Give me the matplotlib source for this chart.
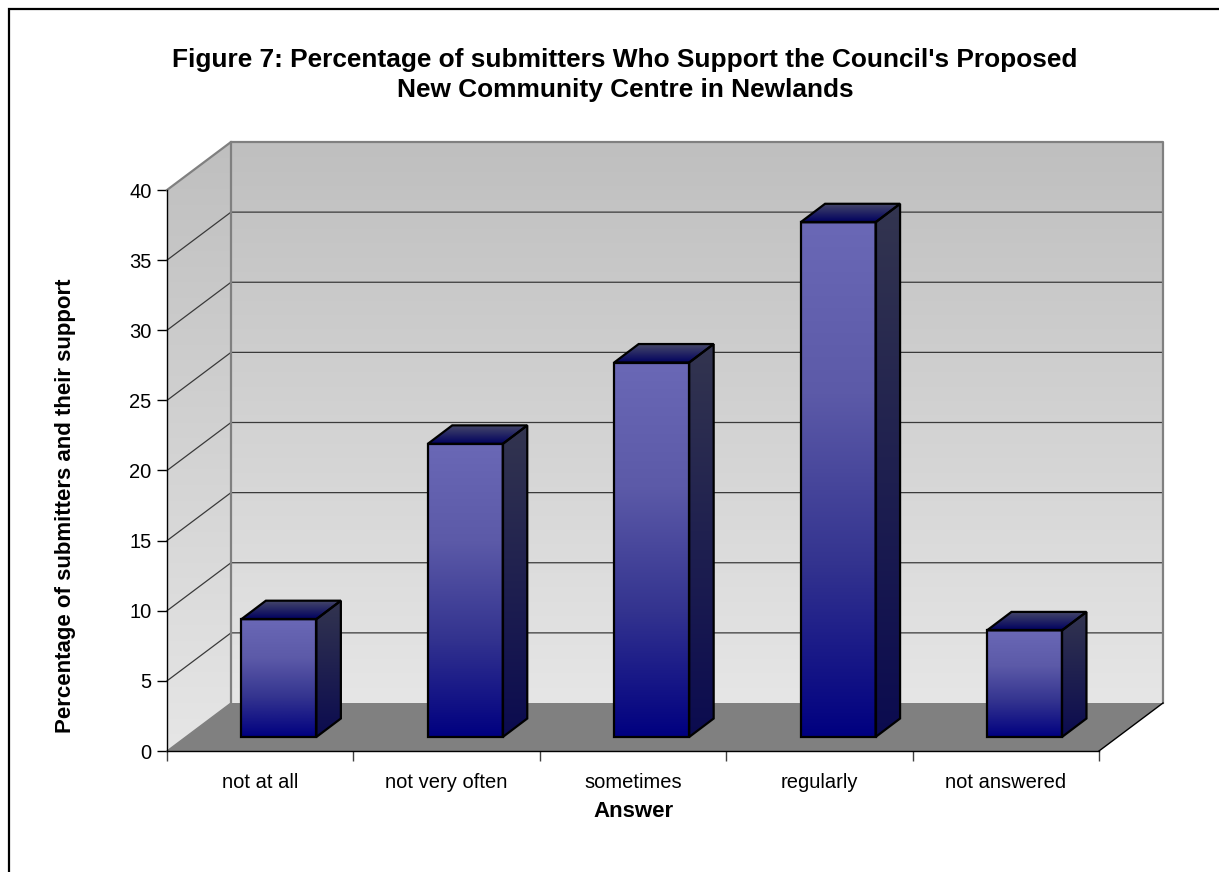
import numpy as np
import matplotlib
matplotlib.use('Agg')
import matplotlib.pyplot as plt
from matplotlib.colors import LinearSegmentedColormap
from matplotlib.lines import Line2D
from matplotlib.patches import Polygon

plt.rcParams['font.family'] = ['Liberation Sans', 'DejaVu Sans']

categories = ['not at all', 'not very often', 'sometimes', 'regularly', 'not answered']
percentages = [8.4, 20.9, 26.7, 36.7, 7.6]
y_ticks = [0, 5, 10, 15, 20, 25, 30, 35, 40]

W, H = 1219, 872
# front plane of the 3D box, in pixels
LEFT, RIGHT, TOP, BOTTOM = 167, 1099, 190, 751

# depth of the box and of the bars, in data units
DEPTH_X = 64 / 186.4
DEPTH_Y = 48 / 14.025
BAR_WIDTH = 75 / 186.4
BAR_DX = 24.5 / 186.4
BAR_DY = 18.5 / 14.025
BAR_START = 14 / 48

wall_cmap = LinearSegmentedColormap.from_list('wall', ['#bfbfbf', '#e6e6e6'])
front_cmap = LinearSegmentedColormap.from_list('front', ['#6a68b6', '#5c5aa8', '#33338f', '#000080'])
side_cmap = LinearSegmentedColormap.from_list('side', ['#33354f', '#0b0b50'])
top_cmap = LinearSegmentedColormap.from_list('top', ['#474969', '#00005f'])


def gradient_poly(ax, pts, cmap, y_range=None, zorder=1):
    # vertical gradient clipped to a polygon
    pts = np.array(pts)
    x0, x1 = pts[:, 0].min(), pts[:, 0].max()
    y0, y1 = y_range if y_range else (pts[:, 1].min(), pts[:, 1].max())
    grad = np.linspace(0, 1, 256).reshape(-1, 1)
    im = ax.imshow(grad, cmap=cmap, extent=[x0, x1, y0, y1], origin='upper',
                   aspect='auto', zorder=zorder, interpolation='bilinear')
    clip = Polygon(pts, closed=True, transform=ax.transData, fill=False, edgecolor='none')
    ax.add_patch(clip)
    clip.set_clip_on(False)
    im.set_clip_path(clip)
    im.set_clip_box(ax.figure.bbox)


def draw_bar(ax, i, val):
    base = BAR_START
    x0 = i + 0.5 - BAR_WIDTH / 2 + base * DEPTH_X
    x1 = x0 + BAR_WIDTH
    y0 = base * DEPTH_Y
    y1 = y0 + val
    dx, dy = BAR_DX, BAR_DY
    front = [(x0, y0), (x1, y0), (x1, y1), (x0, y1)]
    side = [(x1, y0), (x1 + dx, y0 + dy), (x1 + dx, y1 + dy), (x1, y1)]
    top = [(x0, y1), (x1, y1), (x1 + dx, y1 + dy), (x0 + dx, y1 + dy)]
    z = 5 + i * 0.1
    gradient_poly(ax, side, side_cmap, zorder=z)
    gradient_poly(ax, top, top_cmap, zorder=z)
    gradient_poly(ax, front, front_cmap, zorder=z)
    for face in (side, top, front):
        ax.add_patch(Polygon(face, closed=True, fill=False, edgecolor='black',
                             linewidth=1.6, zorder=z + 0.05, clip_on=False, joinstyle='miter'))


fig = plt.figure(figsize=(W / 100, H / 100), dpi=100, facecolor='white')
ax = fig.add_axes([LEFT / W, 1 - BOTTOM / H, (RIGHT - LEFT) / W, (BOTTOM - TOP) / H])
ax.patch.set_visible(False)

# chart border, only the top and left edges fall inside the canvas
fig.add_artist(Line2D([9 / W, 9 / W, 1], [0, 1 - 9 / H, 1 - 9 / H], transform=fig.transFigure,
                      color='black', linewidth=1.6, solid_joinstyle='miter'))

# back and side walls, floor
back = [(DEPTH_X, DEPTH_Y), (5 + DEPTH_X, DEPTH_Y), (5 + DEPTH_X, 40 + DEPTH_Y), (DEPTH_X, 40 + DEPTH_Y)]
side_wall = [(0, 0), (DEPTH_X, DEPTH_Y), (DEPTH_X, 40 + DEPTH_Y), (0, 40)]
floor = [(0, 0), (5, 0), (5 + DEPTH_X, DEPTH_Y), (DEPTH_X, DEPTH_Y)]
gradient_poly(ax, back, wall_cmap, zorder=1)
gradient_poly(ax, side_wall, wall_cmap, zorder=1)
ax.add_patch(Polygon(floor, closed=True, facecolor='#808080', edgecolor='none', zorder=1.5, clip_on=False))

# gridlines along both walls
for v in y_ticks[1:-1]:
    ax.plot([0, DEPTH_X, 5 + DEPTH_X], [v, v + DEPTH_Y, v + DEPTH_Y], color='#3a3a3a',
            linewidth=0.9, zorder=2, clip_on=False)

# wall outlines
ax.plot([0, DEPTH_X, 5 + DEPTH_X, 5 + DEPTH_X], [40, 40 + DEPTH_Y, 40 + DEPTH_Y, DEPTH_Y],
        color='#808080', linewidth=1.6, zorder=3, clip_on=False)
ax.plot([DEPTH_X, DEPTH_X], [DEPTH_Y, 40 + DEPTH_Y], color='#808080', linewidth=1.6, zorder=3, clip_on=False)
ax.plot([0, DEPTH_X], [0, DEPTH_Y], color='#808080', linewidth=1.0, zorder=3, clip_on=False)
ax.plot([5, 5 + DEPTH_X], [0, DEPTH_Y], color='black', linewidth=1.0, zorder=3, clip_on=False)

for i, val in enumerate(percentages):
    draw_bar(ax, i, val)

ax.set_xlim(0, 5)
ax.set_ylim(0, 40)
for s in ('top', 'right'):
    ax.spines[s].set_visible(False)
for s in ('left', 'bottom'):
    ax.spines[s].set_linewidth(1.0)
    ax.spines[s].set_zorder(4)
ax.set_yticks(y_ticks)
ax.set_xticks(np.arange(0, 6))
ax.set_xticklabels([])
ax.set_xticks(np.arange(5) + 0.5, minor=True)
ax.set_xticklabels(categories, minor=True)
ax.tick_params(axis='x', which='major', length=7.2, width=1.0, color='#404040')
ax.tick_params(axis='x', which='minor', length=0, pad=16, labelsize=14.5)
ax.tick_params(axis='y', length=7.2, width=1.0, labelsize=14.5, pad=4)

fig.text(625 / W, 1 - 75 / H, "Figure 7: Percentage of submitters Who Support the Council's Proposed\n"
         "New Community Centre in Newlands", ha='center', va='center', fontsize=18.9,
         fontweight='bold', linespacing=1.27)
fig.text(634 / W, 1 - 811 / H, 'Answer', ha='center', va='center', fontsize=16, fontweight='bold')
fig.text(66 / W, 1 - 506 / H, 'Percentage of submitters and their support', rotation=90,
         ha='center', va='center', fontsize=16, fontweight='bold')

fig.savefig('out.png', dpi=100)
